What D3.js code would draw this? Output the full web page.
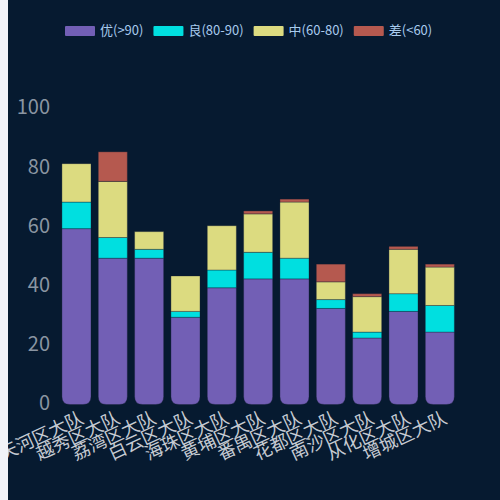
<!DOCTYPE html>
<html>
<head>
<meta charset="utf-8">
<script src="https://cdn.jsdelivr.net/npm/d3@7"></script>
<style>
  html, body { margin: 0; padding: 0; background: #f2f3f8; }
  #chart { position: absolute; left: 8px; top: 0; width: 492px; height: 500px; background: #061a30; overflow: hidden; }
  text { font-family: "Noto Sans CJK SC", "Noto Sans", sans-serif; }
</style>
</head>
<body>
<div id="chart"></div>
<script>
// chart data
const categories = ['天河区大队', '越秀区大队', '荔湾区大队', '白云区大队', '海珠区大队', '黄埔区大队',
    '番禺区大队', '花都区大队', '南沙区大队', '从化区大队', '增城区大队'];
const seriesNames = ['优(>90)', '良(80-90)', '中(60-80)', '差(<60)'];
const excellent = [59, 49, 49, 29, 39, 42, 42, 32, 22, 31, 24];
const good = [9, 7, 3, 2, 6, 9, 7, 3, 2, 6, 9];
const medium = [13, 19, 6, 12, 15, 13, 19, 6, 12, 15, 13];
const poor = [0, 10, 0, 0, 0, 1, 1, 6, 1, 1, 1];
const yTicks = [0, 20, 40, 60, 80, 100];

const colors = ['#725fb5', '#00dfe0', '#dcdb80', '#b5594f'];

const width = 492, height = 500;
const offsetX = 8; // container starts 8px from page edge

const svg = d3.select('#chart')
    .append('svg')
    .attr('width', width)
    .attr('height', height);

const x = d3.scaleBand()
    .domain(categories)
    .range([58.3 - offsetX, 458 - offsetX])
    .paddingInner(0.2)
    .paddingOuter(0.1);

const y = d3.scaleLinear()
    .domain([0, 100])
    .range([403, 107.5]);

// stacked data
const rows = categories.map((c, i) => ({
    cat: c, s0: excellent[i], s1: good[i], s2: medium[i], s3: poor[i]
}));
const stack = d3.stack().keys(['s0', 's1', 's2', 's3'])(rows);

// y axis labels (no line, no ticks)
const yAxis = svg.append('g')
    .attr('transform', `translate(${50 - offsetX},0)`)
    .call(d3.axisLeft(y).tickValues(yTicks).tickSize(0).tickPadding(0))
    .call(g => g.select('.domain').remove());
yAxis.selectAll('text')
    .attr('fill', '#8a95a2')
    .style('font-size', '20px')
    .style('font-family', '"Noto Sans CJK SC", "Noto Sans", sans-serif');

// bars
const r = 8;
stack.forEach((layer, li) => {
    svg.append('g')
        .selectAll('path')
        .data(layer)
        .enter()
        .append('path')
        .attr('fill', colors[li])
        .attr('stroke', 'rgba(20,30,50,0.35)')
        .attr('stroke-width', 1)
        .attr('d', d => {
            const x0 = x(d.data.cat), w = x.bandwidth();
            const top = y(d[1]), bot = y(d[0]);
            if (d[1] - d[0] <= 0) return null;
            if (li === 0) {
                const b = bot + 1.5;
                return `M${x0},${top}H${x0 + w}V${b - r}Q${x0 + w},${b} ${x0 + w - r},${b}` +
                    `H${x0 + r}Q${x0},${b} ${x0},${b - r}Z`;
            }
            return `M${x0},${top}H${x0 + w}V${bot}H${x0}Z`;
        });
});

// x axis labels, rotated
svg.append('g')
    .selectAll('text')
    .data(categories)
    .enter()
    .append('text')
    .attr('transform', d => `translate(${x(d) + x.bandwidth() / 2 + 2},${y(0) + 6}) rotate(-25)`)
    .attr('text-anchor', 'end')
    .attr('dy', '0.82em')
    .attr('fill', '#c5cad2')
    .style('font-size', '18px')
    .text(d => d);

// legend
const legend = svg.append('g').attr('transform', `translate(${65 - offsetX},0)`);
let lx = 0;
seriesNames.forEach((name, i) => {
    legend.append('rect')
        .attr('x', lx)
        .attr('y', 26)
        .attr('width', 30)
        .attr('height', 10)
        .attr('rx', 1)
        .attr('fill', colors[i]);
    const t = legend.append('text')
        .attr('x', lx + 35)
        .attr('y', 31)
        .attr('dominant-baseline', 'middle')
        .attr('fill', '#a8cbee')
        .style('font-size', '13px')
        .text(name);
    lx += 35 + t.node().getComputedTextLength() + 10;
});
</script>
</body>
</html>
